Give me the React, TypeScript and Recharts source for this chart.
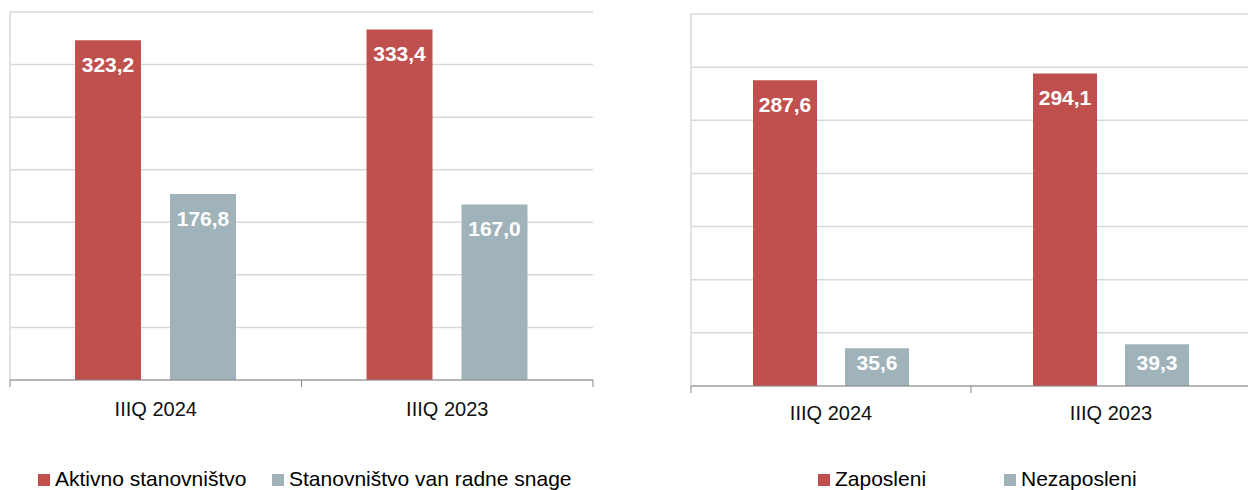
import { BarChart, Bar, XAxis, YAxis, CartesianGrid, LabelList } from 'recharts';

const categories = ['IIIQ 2024', 'IIIQ 2023'];
const aktivno = [323.2, 333.4];
const vanRadneSnage = [176.8, 167.0];
const zaposleni = [287.6, 294.1];
const nezaposleni = [35.6, 39.3];
const yTicks = [0, 50, 100, 150, 200, 250, 300, 350];

const RED = '#c0504d';
const GREY = '#a0b3ba';
const FONT = '"Liberation Sans", Arial, sans-serif';

const leftData = categories.map((c, i) => ({ cat: c, a: aktivno[i], b: vanRadneSnage[i] }));
const rightData = categories.map((c, i) => ({ cat: c, a: zaposleni[i], b: nezaposleni[i] }));

const fmt = (v: number) => v.toFixed(1).replace('.', ',');

// white bold value near the bar top; pushed up a bit for short bars
function ValueLabel(props: any) {
  const { x, y, width, height, value } = props;
  const top = Math.min(y + 17, y + height - 31);
  return (
    <text x={x + width / 2} y={top + 15} textAnchor="middle" fill="#fff" fontWeight="bold" fontSize={21} fontFamily={FONT}>
      {fmt(Number(value))}
    </text>
  );
}

// category label centred, tick marks on band edges (Excel style)
function CatTick(props: any) {
  const { x, y, payload, index, count, halfBand, baseline } = props;
  const half = payload?.offset || halfBand;
  return (
    <g>
      <line x1={x - half} x2={x - half} y1={y} y2={y + 7} stroke="#898989" />
      {index === count - 1 && <line x1={x + half} x2={x + half} y1={y} y2={y + 7} stroke="#898989" />}
      <text x={x} y={y + baseline} textAnchor="middle" fontSize={20} fill="#111" fontFamily={FONT}>
        {payload.value}
      </text>
    </g>
  );
}

function Panel({ data, width, height, margin, barSize, barGap, baseline }: any) {
  const plotW = width - margin.left - margin.right - 1;
  return (
    <BarChart width={width} height={height} data={data} margin={margin} barGap={barGap}>
      <CartesianGrid vertical={false} stroke="#d9d9d9" strokeWidth={1.5} />
      <YAxis
        type="number"
        domain={[0, 350]}
        ticks={yTicks}
        interval={0}
        width={1}
        tick={() => <g />}
        tickLine={false}
        axisLine={{ stroke: '#d9d9d9', strokeWidth: 1.5 }}
      />
      <XAxis
        dataKey="cat"
        height={50}
        tickLine={false}
        tickSize={0}
        tickMargin={0}
        axisLine={{ stroke: '#898989' }}
        interval={0}
        tick={(p: any) => (
          <CatTick {...p} count={data.length} halfBand={plotW / data.length / 2} baseline={baseline} />
        )}
      />
      <Bar dataKey="a" fill={RED} barSize={barSize} isAnimationActive={false}>
        <LabelList dataKey="a" content={ValueLabel} />
      </Bar>
      <Bar dataKey="b" fill={GREY} barSize={barSize} isAnimationActive={false}>
        <LabelList dataKey="b" content={ValueLabel} />
      </Bar>
    </BarChart>
  );
}

function LegendItem({ color, label, left, top }: any) {
  return (
    <div style={{ position: 'absolute', left, top, display: 'flex', alignItems: 'center', lineHeight: '24px', fontSize: 21, whiteSpace: 'nowrap', color: '#000' }}>
      <span style={{ display: 'inline-block', width: 12, height: 12, background: color, marginRight: 5, marginTop: 2 }} />
      <span>{label}</span>
    </div>
  );
}

export default function App() {
  return (
    <div style={{ position: 'fixed', left: 0, top: 0, width: 1248, height: 490, overflow: 'hidden', background: '#fff', fontFamily: FONT }}>
      <div style={{ position: 'absolute', left: 0, top: 0 }}>
        <Panel data={leftData} width={600} height={430} margin={{ top: 12, right: 7, left: 9, bottom: 0 }} barSize={66} barGap={29} baseline={36} />
      </div>
      <div style={{ position: 'absolute', left: 681, top: 0 }}>
        <Panel data={rightData} width={580} height={436} margin={{ top: 14, right: 10, left: 9, bottom: 0 }} barSize={64} barGap={28} baseline={34} />
      </div>
      <LegendItem color={RED} label="Aktivno stanovništvo" left={38} top={467} />
      <LegendItem color={GREY} label="Stanovništvo van radne snage" left={272} top={467} />
      <LegendItem color={RED} label="Zaposleni" left={818} top={467} />
      <LegendItem color={GREY} label="Nezaposleni" left={1004} top={467} />
    </div>
  );
}
